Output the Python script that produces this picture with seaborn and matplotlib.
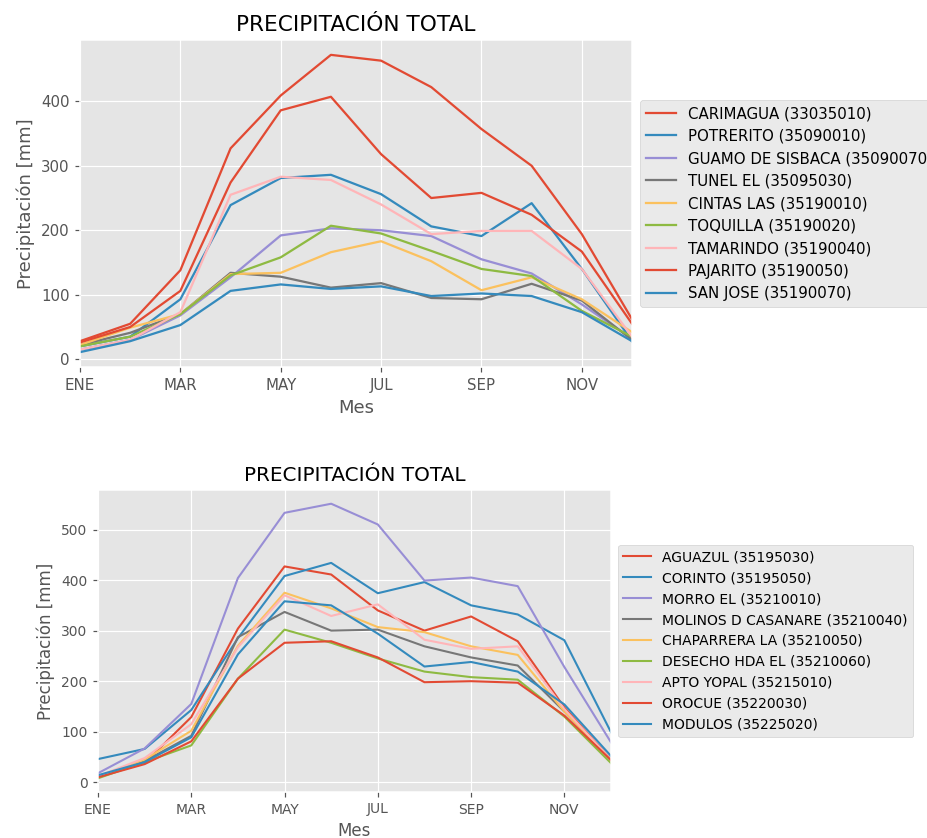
import matplotlib
matplotlib.use("Agg")
import matplotlib.pyplot as plt
import seaborn as sns
import pandas as pd

# Monthly total precipitation (mm) per station
meses = ["ENE", "FEB", "MAR", "ABR", "MAY", "JUN",
         "JUL", "AGO", "SEP", "OCT", "NOV", "DIC"]
tick_pos = [0, 2, 4, 6, 8, 10]
tick_lbl = ["ENE", "MAR", "MAY", "JUL", "SEP", "NOV"]

estaciones_1 = [
    "CARIMAGUA (33035010)", "POTRERITO (35090010)", "GUAMO DE SISBACA (35090070)",
    "TUNEL EL (35095030)", "CINTAS LAS (35190010)", "TOQUILLA (35190020)",
    "TAMARINDO (35190040)", "PAJARITO (35190050)", "SAN JOSE (35190070)",
]
carimagua = [28, 55, 138, 327, 409, 472, 463, 422, 357, 300, 194, 62]
potrerito = [20, 35, 93, 239, 281, 286, 256, 206, 191, 242, 140, 28]
guamo = [15, 30, 68, 127, 192, 203, 200, 191, 155, 133, 85, 32]
tunel = [22, 41, 70, 134, 128, 111, 118, 95, 93, 117, 91, 30]
cintas = [22, 49, 70, 132, 134, 166, 183, 152, 107, 127, 93, 42]
toquilla = [20, 35, 70, 130, 158, 207, 195, 168, 140, 129, 75, 35]
tamarindo = [15, 30, 73, 255, 283, 278, 240, 194, 199, 199, 140, 35]
pajarito = [26, 50, 106, 274, 386, 407, 318, 250, 258, 224, 167, 55]
san_jose = [11, 28, 53, 106, 116, 109, 113, 98, 102, 98, 73, 28]
valores_1 = [carimagua, potrerito, guamo, tunel, cintas,
             toquilla, tamarindo, pajarito, san_jose]

estaciones_2 = [
    "AGUAZUL (35195030)", "CORINTO (35195050)", "MORRO EL (35210010)",
    "MOLINOS D CASANARE (35210040)", "CHAPARRERA LA (35210050)",
    "DESECHO HDA EL (35210060)", "APTO YOPAL (35215010)",
    "OROCUE (35220030)", "MODULOS (35225020)",
]
aguazul = [12, 38, 129, 304, 427, 411, 340, 300, 328, 279, 148, 45]
corinto = [46, 66, 143, 285, 408, 434, 374, 396, 350, 332, 281, 99]
morro = [18, 67, 155, 404, 533, 551, 510, 399, 405, 388, 228, 79]
molinos = [12, 42, 92, 287, 337, 300, 302, 269, 247, 231, 140, 45]
chaparrera = [10, 45, 102, 270, 375, 344, 307, 297, 269, 252, 140, 45]
desecho = [8, 40, 73, 205, 302, 276, 245, 219, 208, 203, 130, 38]
apto_yopal = [12, 48, 115, 267, 370, 329, 352, 282, 264, 269, 145, 45]
orocue = [10, 36, 81, 205, 276, 279, 247, 198, 200, 197, 132, 44]
modulos = [14, 40, 89, 253, 358, 350, 294, 229, 238, 219, 154, 52]
valores_2 = [aguazul, corinto, morro, molinos, chaparrera,
             desecho, apto_yopal, orocue, modulos]

colores = ["#E24A33", "#348ABD", "#988ED5", "#777777", "#FBC15E",
           "#8EBA42", "#FFB5B8", "#E24A33", "#348ABD"]


def tabla(estaciones, valores):
    filas = []
    for est, vals in zip(estaciones, valores):
        for i, v in enumerate(vals):
            filas.append({"Estacion": est, "mes": i, "valor": v})
    return pd.DataFrame(filas)


plt.style.use("ggplot")
fig = plt.figure(figsize=(927 / 108, 838 / 108), dpi=108)
ax1 = fig.add_axes([80 / 927, 1 - 367 / 838, 552 / 927, 327 / 838])
ax2 = fig.add_axes([98 / 927, 1 - 792 / 838, 513 / 927, 302 / 838])

# the lower panel uses a slightly smaller text scale
for ax, est, vals, k in [(ax1, estaciones_1, valores_1, 1.0),
                         (ax2, estaciones_2, valores_2, 0.925)]:
    df = tabla(est, vals)
    sns.lineplot(data=df, x="mes", y="valor", hue="Estacion", hue_order=est,
                 palette=colores, estimator=None, ax=ax, linewidth=1.5 * k)
    ax.set_xlim(0, 11)
    ax.set_xticks(tick_pos)
    ax.set_xticklabels(tick_lbl)
    ax.tick_params(labelsize=10 * k)
    ax.set_xlabel("Mes", fontsize=12 * k)
    ax.set_ylabel("Precipitación [mm]", fontsize=12 * k)
    ax.set_title("PRECIPITACIÓN TOTAL", fontsize=14.4 * k)
    handles, labels = ax.get_legend_handles_labels()
    ax.legend(handles, labels, loc="center left", bbox_to_anchor=(1.0, 0.5),
              fontsize=10 * k)

fig.savefig("out.png", dpi=108)
